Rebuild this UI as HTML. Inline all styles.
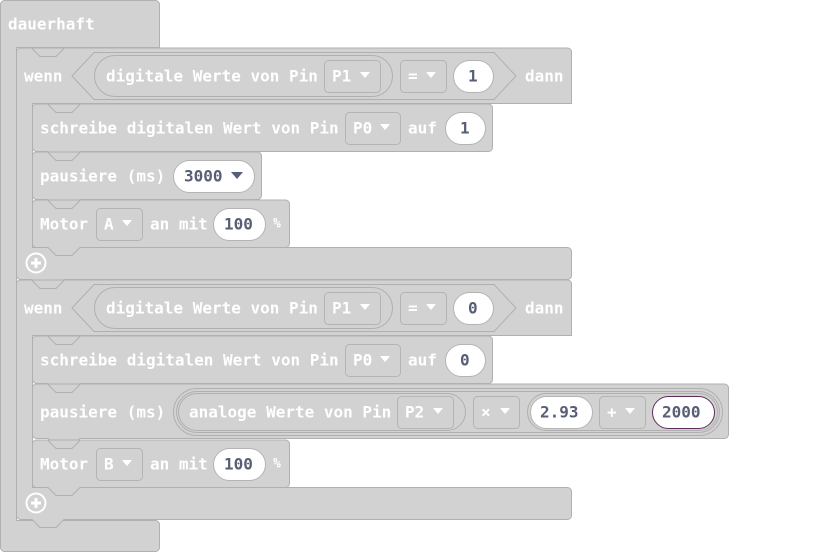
<!DOCTYPE html>
<html><head><meta charset="utf-8"><style>
html,body{margin:0;padding:0;background:#fff;width:833px;height:552px;overflow:hidden}
svg{display:block}
text{font-family:"DejaVu Sans Mono","Liberation Mono",monospace;font-weight:bold;font-size:16px;fill:#fff;dominant-baseline:central}
.d{fill:#575e75}
.b{fill:#d2d2d2;stroke:#b0b0b0;stroke-width:1}
.dd{fill:#d2d2d2;stroke:#b4b4b4;stroke-width:1}
.w{fill:#fff;stroke:#b4b4b4;stroke-width:1}
.tri{fill:#fff}
.n{fill:none;stroke:#b0b0b0;stroke-width:1}
</style></head><body>
<svg width="833" height="552" viewBox="0 0 833 552" xmlns="http://www.w3.org/2000/svg">
<!-- dauerhaft -->
<path class="b" d="M0.5,4.5 a4,4 0 0 1 4,-4 H155.5 a4,4 0 0 1 4,4 V47.5 H16.5 V520.5 H155.5 a4,4 0 0 1 4,4 V547.5 a4,4 0 0 1 -4,4 H4.5 a4,4 0 0 1 -4,-4 Z"/>
<text x="8" y="24">dauerhaft</text>

<!-- wenn 1 -->
<path class="b" d="M16.5,52 a4,4 0 0 1 4,-4 H567.5 a4,4 0 0 1 4,4 V103.5 H32.5 V247.5 H567.5 a4,4 0 0 1 4,4 V275.5 a4,4 0 0 1 -4,4 H64 l-8,8 h-16 l-8,-8 H20.5 a4,4 0 0 1 -4,-4 Z"/>
<path class="n" d="M32,48.5 l8,8 h16 l8,-8"/>
<text x="24" y="76">wenn</text>
<path class="b" d="M94,52.5 H494 L516,76 L494,99.5 H94 L72,76 Z"/>
<rect class="b" x="94.5" y="55.5" width="298" height="41" rx="20.5"/>
<text x="106" y="76">digitale Werte von Pin</text>
<rect class="dd" x="324.5" y="60.5" width="56" height="32" rx="4"/>
<text x="332" y="76">P1</text><path class="tri" d="M360,72 h10 l-5,6z"/>
<rect class="dd" x="400.5" y="60.5" width="46" height="32" rx="4"/>
<text x="408" y="76">=</text><path class="tri" d="M426,72 h10 l-5,6z"/>
<rect class="w" x="453.5" y="60.5" width="40" height="32" rx="16"/>
<text class="d" x="468" y="76">1</text>
<text x="525" y="76">dann</text>

<!-- schreibe 1 -->
<path class="b" d="M32.5,108 a4,4 0 0 1 4,-4 H488.5 a4,4 0 0 1 4,4 V147.5 a4,4 0 0 1 -4,4 H80 l-8,8 h-16 l-8,-8 H36.5 a4,4 0 0 1 -4,-4 Z"/>
<path class="n" d="M48,104.5 l8,8 h16 l8,-8"/>
<text x="40" y="128">schreibe digitalen Wert von Pin</text>
<rect class="dd" x="345.5" y="112.5" width="55" height="32" rx="4"/>
<text x="353" y="128">P0</text><path class="tri" d="M380,124 h10 l-5,6z"/>
<text x="408" y="128">auf</text>
<rect class="w" x="445.5" y="112.5" width="40" height="32" rx="16"/>
<text class="d" x="460" y="128">1</text>

<!-- pausiere 1 -->
<path class="b" d="M32.5,156 a4,4 0 0 1 4,-4 H257.5 a4,4 0 0 1 4,4 V195.5 a4,4 0 0 1 -4,4 H80 l-8,8 h-16 l-8,-8 H36.5 a4,4 0 0 1 -4,-4 Z"/>
<path class="n" d="M48,152.5 l8,8 h16 l8,-8"/>
<text x="40" y="176">pausiere (ms)</text>
<rect class="w" x="173.5" y="160.5" width="81" height="32" rx="16"/>
<text class="d" x="184" y="176">3000</text><path d="M231,172 h12 l-6,7z" fill="#575e75"/>

<!-- motor A -->
<path class="b" d="M32.5,204 a4,4 0 0 1 4,-4 H285.5 a4,4 0 0 1 4,4 V243.5 a4,4 0 0 1 -4,4 H80 l-8,8 h-16 l-8,-8 H36.5 a4,4 0 0 1 -4,-4 Z"/>
<path class="n" d="M48,200.5 l8,8 h16 l8,-8"/>
<text x="40" y="224">Motor</text>
<rect class="dd" x="96.5" y="208.5" width="46" height="32" rx="4"/>
<text x="104" y="224">A</text><path class="tri" d="M122,220 h10 l-5,6z"/>
<text x="150" y="224">an mit</text>
<rect class="w" x="213.5" y="208.5" width="52" height="32" rx="16"/>
<text class="d" x="224" y="224">100</text>
<text x="273" y="224" style="font-size:13px">%</text>
<circle cx="36" cy="263" r="9.5" fill="none" stroke="#fff" stroke-width="2"/>
<path d="M31,263 h10 M36,258 v10" stroke="#fff" stroke-width="3"/>

<!-- wenn 2 -->
<path class="b" d="M16.5,284 a4,4 0 0 1 4,-4 H567.5 a4,4 0 0 1 4,4 V335.5 H32.5 V487.5 H567.5 a4,4 0 0 1 4,4 V515.5 a4,4 0 0 1 -4,4 H64 l-8,8 h-16 l-8,-8 H20.5 a4,4 0 0 1 -4,-4 Z"/>
<path class="n" d="M32,280.5 l8,8 h16 l8,-8"/>
<text x="24" y="308">wenn</text>
<path class="b" d="M94,284.5 H494 L516,308 L494,331.5 H94 L72,308 Z"/>
<rect class="b" x="94.5" y="287.5" width="298" height="41" rx="20.5"/>
<text x="106" y="308">digitale Werte von Pin</text>
<rect class="dd" x="324.5" y="292.5" width="56" height="32" rx="4"/>
<text x="332" y="308">P1</text><path class="tri" d="M360,304 h10 l-5,6z"/>
<rect class="dd" x="400.5" y="292.5" width="46" height="32" rx="4"/>
<text x="408" y="308">=</text><path class="tri" d="M426,304 h10 l-5,6z"/>
<rect class="w" x="453.5" y="292.5" width="40" height="32" rx="16"/>
<text class="d" x="468" y="308">0</text>
<text x="525" y="308">dann</text>

<!-- schreibe 2 -->
<path class="b" d="M32.5,340 a4,4 0 0 1 4,-4 H488.5 a4,4 0 0 1 4,4 V379.5 a4,4 0 0 1 -4,4 H80 l-8,8 h-16 l-8,-8 H36.5 a4,4 0 0 1 -4,-4 Z"/>
<path class="n" d="M48,336.5 l8,8 h16 l8,-8"/>
<text x="40" y="360">schreibe digitalen Wert von Pin</text>
<rect class="dd" x="345.5" y="344.5" width="55" height="32" rx="4"/>
<text x="353" y="360">P0</text><path class="tri" d="M380,356 h10 l-5,6z"/>
<text x="408" y="360">auf</text>
<rect class="w" x="445.5" y="344.5" width="40" height="32" rx="16"/>
<text class="d" x="460" y="360">0</text>

<!-- pausiere 2 -->
<path class="b" d="M32.5,388 a4,4 0 0 1 4,-4 H724.5 a4,4 0 0 1 4,4 V434.5 a4,4 0 0 1 -4,4 H80 l-8,8 h-16 l-8,-8 H36.5 a4,4 0 0 1 -4,-4 Z"/>
<path class="n" d="M48,384.5 l8,8 h16 l8,-8"/>
<text x="40" y="412">pausiere (ms)</text>
<rect class="b" x="173.5" y="388.5" width="549" height="47" rx="23.5"/>
<rect class="b" x="176.5" y="391.5" width="543" height="41" rx="20.5"/>
<rect class="b" x="178.5" y="393.5" width="287" height="37" rx="18.5"/>
<text x="189" y="412">analoge Werte von Pin</text>
<rect class="dd" x="397.5" y="396.5" width="56" height="32" rx="4"/>
<text x="405" y="412">P2</text><path class="tri" d="M433,408 h10 l-5,6z"/>
<rect class="dd" x="473.5" y="396.5" width="46" height="32" rx="4"/>
<text x="481" y="412">×</text><path class="tri" d="M500,408 h10 l-5,6z"/>
<rect class="b" x="527.5" y="393.5" width="190" height="37" rx="18.5"/>
<rect class="w" x="530.5" y="396.5" width="62" height="32" rx="16"/>
<text class="d" x="540" y="412">2.93</text>
<rect class="dd" x="599.5" y="396.5" width="46" height="32" rx="4"/>
<text x="607" y="412">+</text><path class="tri" d="M625,408 h10 l-5,6z"/>
<rect x="652.5" y="396.5" width="62" height="32" rx="16" fill="#fff" stroke="#5c2d5c"/>
<text class="d" x="662" y="412">2000</text>

<!-- motor B -->
<path class="b" d="M32.5,444 a4,4 0 0 1 4,-4 H285.5 a4,4 0 0 1 4,4 V483.5 a4,4 0 0 1 -4,4 H80 l-8,8 h-16 l-8,-8 H36.5 a4,4 0 0 1 -4,-4 Z"/>
<path class="n" d="M48,440.5 l8,8 h16 l8,-8"/>
<text x="40" y="464">Motor</text>
<rect class="dd" x="96.5" y="448.5" width="46" height="32" rx="4"/>
<text x="104" y="464">B</text><path class="tri" d="M122,460 h10 l-5,6z"/>
<text x="150" y="464">an mit</text>
<rect class="w" x="213.5" y="448.5" width="52" height="32" rx="16"/>
<text class="d" x="224" y="464">100</text>
<text x="273" y="464" style="font-size:13px">%</text>
<circle cx="36" cy="503" r="9.5" fill="none" stroke="#fff" stroke-width="2"/>
<path d="M31,503 h10 M36,498 v10" stroke="#fff" stroke-width="3"/>
</svg>
</body></html>
